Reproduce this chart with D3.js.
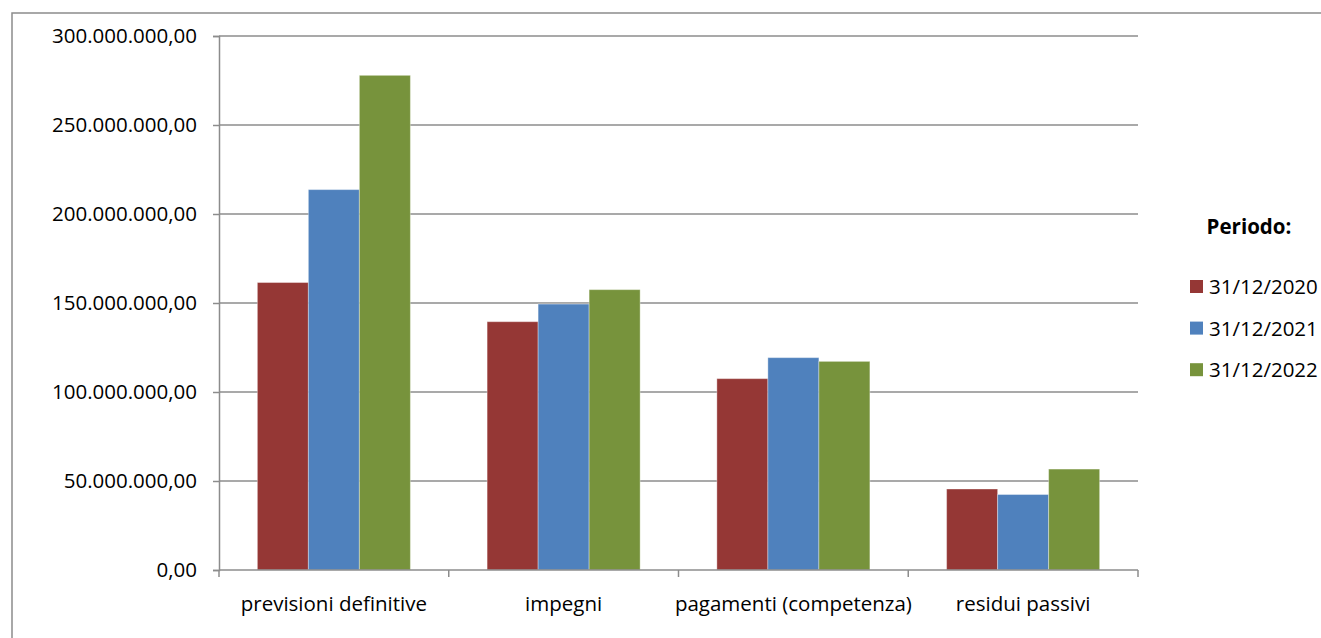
<!DOCTYPE html>
<html lang="it">
<head>
<meta charset="UTF-8">
<style>
  body { margin: 0; background: #fff; }
  text { font-family: "Open Sans", "Noto Sans", sans-serif; fill: #000; }
</style>
</head>
<body>
<script src="https://cdn.jsdelivr.net/npm/d3@7"></script>
<script>
// chart data
var categories = ['previsioni definitive', 'impegni', 'pagamenti (competenza)', 'residui passivi']
var periods = ['31/12/2020', '31/12/2021', '31/12/2022']
var values2020 = [161500000, 139500000, 107500000, 45500000]
var values2021 = [213700000, 149400000, 119300000, 42400000]
var values2022 = [277900000, 157500000, 117200000, 56700000]
var yTicks = [0, 50000000, 100000000, 150000000, 200000000, 250000000, 300000000]
var colors = ['#953735', '#4f81bd', '#77933c']

var series = [values2020, values2021, values2022]

var width = 1321, height = 638
var plot = { left: 219, right: 1138, top: 36, bottom: 570 }
var fontSize = 20.5

var svg = d3.select('body').append('svg')
    .attr('width', width)
    .attr('height', height)

// outer chart frame
svg.append('rect')
    .attr('x', 12).attr('y', 13)
    .attr('width', 1330).attr('height', 660)
    .attr('fill', 'none')
    .attr('stroke', '#8c8c8c')
    .attr('stroke-width', 1.5)

var xScale = d3.scaleBand()
    .domain(categories)
    .range([plot.left, plot.right])
    .paddingInner(0.334)
    .paddingOuter(0.167)
var bandScale = d3.scaleBand()
    .domain(periods)
    .range([0, xScale.bandwidth()])
var yScale = d3.scaleLinear()
    .domain([0, 300000000])
    .range([plot.bottom, plot.top])

// number format it-IT
var fmt = function (v) {
    var s = d3.format(',.2f')(v)
    return s.replace(/,/g, '#').replace('.', ',').replace(/#/g, '.')
}

// gridlines
svg.append('g').selectAll('line')
    .data(yTicks.filter(function (d) { return d > 0 }))
    .enter().append('line')
    .attr('x1', plot.left).attr('x2', plot.right)
    .attr('y1', function (d) { return yScale(d) })
    .attr('y2', function (d) { return yScale(d) })
    .attr('stroke', '#8c8c8c')
    .attr('stroke-width', 1.5)

// bars
series.forEach(function (vals, i) {
    svg.append('g').selectAll('rect')
        .data(vals)
        .enter().append('rect')
        .attr('x', function (d, j) { return xScale(categories[j]) + bandScale(periods[i]) })
        .attr('y', function (d) { return yScale(d) })
        .attr('width', bandScale.bandwidth())
        .attr('height', function (d) { return plot.bottom - yScale(d) })
        .attr('fill', colors[i])
        .attr('stroke', '#fff')
        .attr('stroke-opacity', 0.35)
        .attr('stroke-width', 1)
})

// y axis
var yAxis = svg.append('g')
    .attr('transform', 'translate(' + plot.left + ',0)')
    .call(d3.axisLeft(yScale).tickValues(yTicks).tickFormat(fmt).tickSize(6).tickPadding(16))
yAxis.select('.domain').attr('stroke', '#8c8c8c').attr('stroke-width', 1.5)
yAxis.selectAll('.tick line').attr('stroke', '#8c8c8c').attr('stroke-width', 1.5)
yAxis.selectAll('.tick text').attr('font-size', fontSize).attr('fill', '#000')
    .style('font-family', '"Open Sans", sans-serif')

// x axis
var step = (plot.right - plot.left) / categories.length
var xAxis = svg.append('g')
svg.append('line')
    .attr('x1', plot.left).attr('x2', plot.right)
    .attr('y1', plot.bottom).attr('y2', plot.bottom)
    .attr('stroke', '#8c8c8c').attr('stroke-width', 1.5)
xAxis.selectAll('line')
    .data(d3.range(categories.length + 1))
    .enter().append('line')
    .attr('x1', function (d) { return plot.left + d * step })
    .attr('x2', function (d) { return plot.left + d * step })
    .attr('y1', plot.bottom).attr('y2', plot.bottom + 7)
    .attr('stroke', '#8c8c8c').attr('stroke-width', 1.5)
xAxis.selectAll('text')
    .data(categories)
    .enter().append('text')
    .attr('x', function (d) { return xScale(d) + xScale.bandwidth() / 2 })
    .attr('y', 611)
    .attr('text-anchor', 'middle')
    .attr('font-size', fontSize)
    .text(function (d) { return d })

// legend
svg.append('text')
    .attr('x', 1249).attr('y', 234)
    .attr('text-anchor', 'middle')
    .attr('font-size', fontSize)
    .attr('font-weight', 'bold')
    .text('Periodo:')

var legend = svg.append('g').selectAll('g')
    .data(periods)
    .enter().append('g')
    .attr('transform', function (d, i) { return 'translate(1190,' + (280 + i * 41.6) + ')' })
legend.append('rect')
    .attr('width', 13).attr('height', 13)
    .attr('fill', function (d, i) { return colors[i] })
legend.append('text')
    .attr('x', 19).attr('y', 14)
    .attr('font-size', fontSize)
    .text(function (d) { return d })
</script>
</body>
</html>
